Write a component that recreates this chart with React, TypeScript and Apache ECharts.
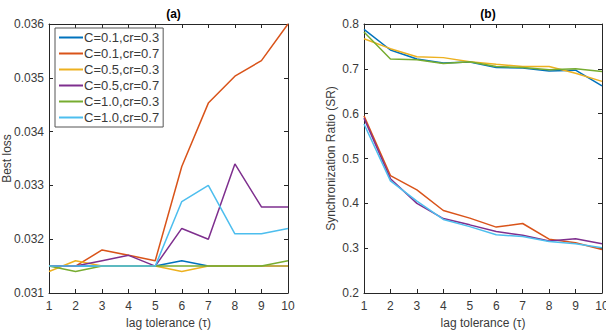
import React, { useEffect, useRef } from "react";
import * as echarts from "echarts";

const lags = [1, 2, 3, 4, 5, 6, 7, 8, 9, 10];
const seriesNames = ["C=0.1,cr=0.3", "C=0.1,cr=0.7", "C=0.5,cr=0.3", "C=0.5,cr=0.7", "C=1.0,cr=0.3", "C=1.0,cr=0.7"];
const colors = ["#0072BD", "#D95319", "#EDB120", "#7E2F8E", "#77AC30", "#4DBEEE"];

// (a) Best loss
const lossC01cr03 = [0.0315, 0.0315, 0.0315, 0.0315, 0.0315, 0.0316, 0.0315, 0.0315, 0.0315, 0.0315];
const lossC01cr07 = [0.0315, 0.0315, 0.0318, 0.0317, 0.0316, 0.03335, 0.03453, 0.03503, 0.03532, 0.036];
const lossC05cr03 = [0.0314, 0.0316, 0.0315, 0.0315, 0.0315, 0.0314, 0.0315, 0.0315, 0.0315, 0.0315];
const lossC05cr07 = [0.0315, 0.0315, 0.0316, 0.0317, 0.0315, 0.0322, 0.032, 0.0334, 0.0326, 0.0326];
const lossC10cr03 = [0.0315, 0.0314, 0.0315, 0.0315, 0.0315, 0.0315, 0.0315, 0.0315, 0.0315, 0.0316];
const lossC10cr07 = [0.0315, 0.0315, 0.0315, 0.0315, 0.0315, 0.0327, 0.033, 0.0321, 0.0321, 0.0322];

// (b) Synchronization Ratio
const srC01cr03 = [0.788, 0.742, 0.722, 0.713, 0.715, 0.703, 0.702, 0.695, 0.697, 0.662];
const srC01cr07 = [0.595, 0.462, 0.43, 0.384, 0.367, 0.347, 0.355, 0.32, 0.312, 0.297];
const srC05cr03 = [0.767, 0.745, 0.727, 0.725, 0.716, 0.71, 0.705, 0.705, 0.69, 0.672];
const srC05cr07 = [0.59, 0.455, 0.4, 0.366, 0.352, 0.337, 0.329, 0.316, 0.321, 0.31];
const srC10cr03 = [0.782, 0.722, 0.72, 0.712, 0.716, 0.705, 0.703, 0.698, 0.7, 0.694];
const srC10cr07 = [0.577, 0.45, 0.405, 0.364, 0.348, 0.33, 0.326, 0.315, 0.31, 0.301];

const lossData = [lossC01cr03, lossC01cr07, lossC05cr03, lossC05cr07, lossC10cr03, lossC10cr07];
const srData = [srC01cr03, srC01cr07, srC05cr03, srC05cr07, srC10cr03, srC10cr07];

const FONT = '"Liberation Sans", Arial, Helvetica, sans-serif';
const AX = "#262626";
const TXT = "#3a3a3a";

export default function App() {
  const ref = useRef<HTMLDivElement>(null);
  useEffect(() => {
    if (!ref.current) return;
    const chart = echarts.init(ref.current, undefined, { renderer: "svg" });
    const grids = [
      { left: 49, right: 318, top: 24, bottom: 40, containLabel: false, outerBoundsMode: "none" },
      { left: 364, right: 4, top: 24, bottom: 40, containLabel: false, outerBoundsMode: "none" },
    ];
    const xAxes: any[] = [];
    const yAxes: any[] = [];
    const yCfg = [
      { min: 0.031, max: 0.036, interval: 0.001, name: "Best loss", fmt: (v: number) => v.toFixed(3), gap: 36.5 },
      { min: 0.2, max: 0.8, interval: 0.1, name: "Synchronization Ratio (SR)", fmt: (v: number) => v.toFixed(1), gap: 27 },
    ];
    for (let g = 0; g < 2; g++) {
      const base = {
        type: "value",
        gridIndex: g,
        min: 1,
        max: 10,
        interval: 1,
        splitLine: { show: false },
        axisLine: { show: true, onZero: false, lineStyle: { color: AX, width: 1 } },
        axisTick: { show: true, inside: true, length: 4, lineStyle: { color: AX } },
      };
      xAxes.push({
        ...base,
        position: "bottom",
        name: "lag tolerance (\u03c4)",
        nameLocation: "middle",
        nameGap: 24,
        nameMoveOverlap: false,
        nameTextStyle: { fontFamily: FONT, fontSize: 12, color: TXT },
        axisLabel: { fontFamily: FONT, fontSize: 12, color: TXT, margin: 7 },
      });
      xAxes.push({ ...base, position: "top", axisLabel: { show: false } });
      const yc = yCfg[g];
      const ybase = {
        type: "value",
        gridIndex: g,
        min: yc.min,
        max: yc.max,
        interval: yc.interval,
        splitLine: { show: false },
        axisLine: { show: true, onZero: false, lineStyle: { color: AX, width: 1 } },
        axisTick: { show: true, inside: true, length: 4, lineStyle: { color: AX } },
      };
      yAxes.push({
        ...ybase,
        position: "left",
        name: yc.name,
        nameLocation: "middle",
        nameGap: yc.gap,
        nameMoveOverlap: false,
        nameTextStyle: { fontFamily: FONT, fontSize: 12, color: TXT },
        axisLabel: { fontFamily: FONT, fontSize: 12, color: TXT, margin: 5, formatter: yc.fmt },
      });
      yAxes.push({ ...ybase, position: "right", axisLabel: { show: false } });
    }
    const series: any[] = [];
    [lossData, srData].forEach((set, g) => {
      set.forEach((vals, i) => {
        series.push({
          type: "line",
          name: seriesNames[i],
          xAxisIndex: g * 2,
          yAxisIndex: g * 2,
          data: lags.map((x, k) => [x, vals[k]]),
          symbol: "none",
          lineStyle: { color: colors[i], width: 1.5 },
          itemStyle: { color: colors[i] },
          clip: false,
        });
      });
    });
    chart.setOption({
      animation: false,
      backgroundColor: "#ffffff",
      title: [
        { text: "(a)", left: 168.5, top: 3, textAlign: "center", textStyle: { fontFamily: FONT, fontSize: 12, fontWeight: "bold", color: "#000" } },
        { text: "(b)", left: 483, top: 3, textAlign: "center", textStyle: { fontFamily: FONT, fontSize: 12, fontWeight: "bold", color: "#000" } },
      ],
      grid: grids,
      xAxis: xAxes,
      yAxis: yAxes,
      legend: {
        data: seriesNames.map((n) => ({ name: n, icon: "rect" })),
        orient: "vertical",
        left: 55,
        top: 28,
        itemWidth: 24,
        itemHeight: 2,
        itemGap: 3,
        padding: [3, 4, 3, 4],
        borderColor: "#555",
        borderWidth: 1,
        backgroundColor: "#fff",
        selectedMode: false,
        textStyle: { fontFamily: FONT, fontSize: 13, color: TXT, padding: [0, 0, 0, -4] },
      },
      series,
    });
    return () => chart.dispose();
  }, []);
  return <div ref={ref} style={{ position: "fixed", left: 0, top: 0, width: 606, height: 333 }} />;
}
